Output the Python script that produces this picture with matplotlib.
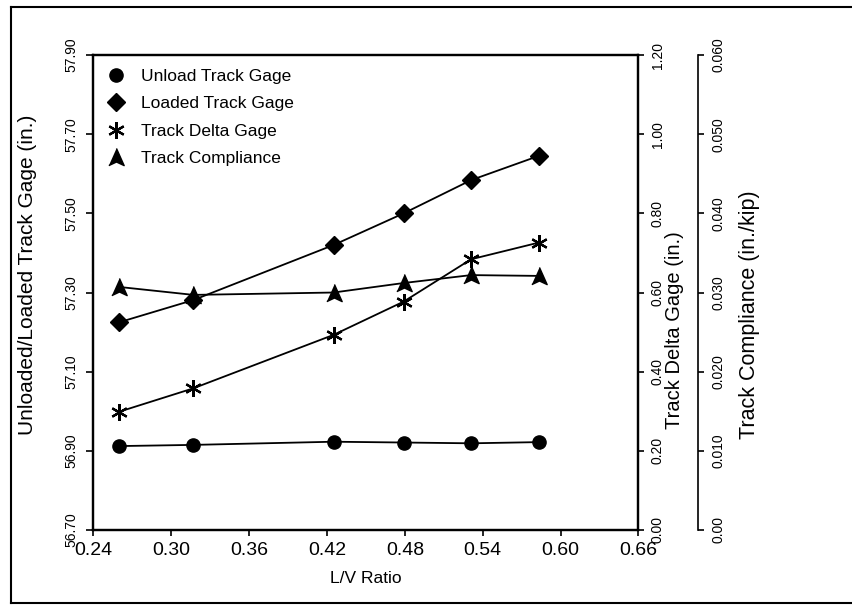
import matplotlib
matplotlib.use('Agg')
import matplotlib.pyplot as plt
from matplotlib.lines import Line2D

plt.rcParams['font.family'] = ['Liberation Sans', 'DejaVu Sans']

# L/V ratio for each test run
lv_ratio = [0.260, 0.317, 0.425, 0.479, 0.531, 0.583]

# gage readings (in.)
unload_gage = [56.912, 56.915, 56.923, 56.921, 56.919, 56.922]
loaded_gage = [57.225, 57.281, 57.420, 57.500, 57.584, 57.645]
delta_gage = [0.299, 0.358, 0.493, 0.577, 0.684, 0.726]

# compliance (in./kip)
compliance = [0.0307, 0.0297, 0.0300, 0.0312, 0.0322, 0.0321]

x_ticks = [0.24, 0.30, 0.36, 0.42, 0.48, 0.54, 0.60, 0.66]
left_ticks = [56.70, 56.90, 57.10, 57.30, 57.50, 57.70, 57.90]
delta_ticks = [0.00, 0.20, 0.40, 0.60, 0.80, 1.00, 1.20]
comp_ticks = [0.0, 0.010, 0.020, 0.030, 0.040, 0.050, 0.060]
comp_labels = ['0.00', '0.010', '0.020', '0.030', '0.040', '0.050', '0.060']

# arrowhead-ish triangle like the scanned marker
arrow = [(0, 1), (0.85, -0.9), (0, -0.5), (-0.85, -0.9)]
asterisk = (6, 2, 0)

fig = plt.figure(figsize=(8.53, 6.05), dpi=100)
ax = fig.add_axes([0.1096, 0.124, 0.6389, 0.785])
ax2 = ax.twinx()
ax3 = ax.twinx()
ax3.spines['right'].set_position(('axes', 1.109))

for a in (ax, ax2, ax3):
    a.patch.set_visible(False)
    for s in a.spines.values():
        s.set_linewidth(1.6)
ax3.spines['top'].set_visible(False)
ax3.spines['bottom'].set_visible(False)
ax3.spines['left'].set_visible(False)
ax3.spines['right'].set_linewidth(1.2)

lw = 1.3
ax.plot(lv_ratio, unload_gage, color='black', lw=lw, marker='o', ms=9.5, zorder=3)
ax.plot(lv_ratio, loaded_gage, color='black', lw=lw, marker='D', ms=9, zorder=3)
ax2.plot(lv_ratio, delta_gage, color='black', lw=lw, marker=asterisk, ms=12, mew=1.6, zorder=3)
ax3.plot(lv_ratio, compliance, color='black', lw=lw, marker=arrow, ms=13, zorder=3)

ax.set_xlim(0.24, 0.66)
ax.set_ylim(56.70, 57.90)
ax2.set_ylim(0, 1.2)
ax3.set_ylim(0, 0.06)

ax.set_xticks(x_ticks)
ax.set_xticklabels([f'{t:.2f}' for t in x_ticks], fontsize=14)
ax.set_yticks(left_ticks)
ax.set_yticklabels([f'{t:.2f}' for t in left_ticks], rotation=90, va='center', fontsize=10)
ax2.set_yticks(delta_ticks)
ax2.set_yticklabels([f'{t:.2f}' for t in delta_ticks], rotation=90, va='center', fontsize=10)
ax3.set_yticks(comp_ticks)
ax3.set_yticklabels(comp_labels, rotation=90, va='center', fontsize=10)

ax.tick_params(axis='x', direction='out', length=4, width=1.2, pad=5)
ax.tick_params(axis='y', direction='out', length=5, width=1.2, pad=6)
ax2.tick_params(axis='y', direction='out', length=4, width=1.2, pad=5)
ax3.tick_params(axis='y', direction='out', length=4, width=1.2, pad=6)

ax.set_xlabel('L/V Ratio', fontsize=12.5, labelpad=8)
ax.set_ylabel('Unloaded/Loaded Track Gage (in.)', fontsize=15)
ax2.set_ylabel('Track Delta Gage (in.)', fontsize=14.5)
ax3.set_ylabel('Track Compliance (in./kip)', fontsize=15.5)
ax.yaxis.set_label_coords(-0.104, 0.537)
ax2.yaxis.set_label_coords(1.049, 0.421)
ax3.yaxis.set_label_coords(1.184, 0.453)

handles = [
    Line2D([], [], color='black', marker='o', ls='None', ms=9.5),
    Line2D([], [], color='black', marker='D', ls='None', ms=9),
    Line2D([], [], color='black', marker=asterisk, ls='None', ms=12, mew=1.6),
    Line2D([], [], color='black', marker=arrow, ls='None', ms=13),
]
names = ['Unload Track Gage', 'Loaded Track Gage', 'Track Delta Gage', 'Track Compliance']
ax.legend(handles, names, loc='upper left', frameon=False, fontsize=12.5,
          handlelength=1.0, handletextpad=0.95, labelspacing=0.7,
          borderaxespad=0.4, bbox_to_anchor=(0.0, 1.0))

# scanned page border
fig.add_artist(Line2D([11 / 853, 11 / 853], [1 - 7 / 605, 1 - 603 / 605], color='black', lw=1.5))
fig.add_artist(Line2D([11 / 853, 1.0], [1 - 7 / 605, 1 - 7 / 605], color='black', lw=1.5))
fig.add_artist(Line2D([11 / 853, 1.0], [1 - 603 / 605, 1 - 603 / 605], color='black', lw=1.5))

fig.savefig('out.png', dpi=100)
